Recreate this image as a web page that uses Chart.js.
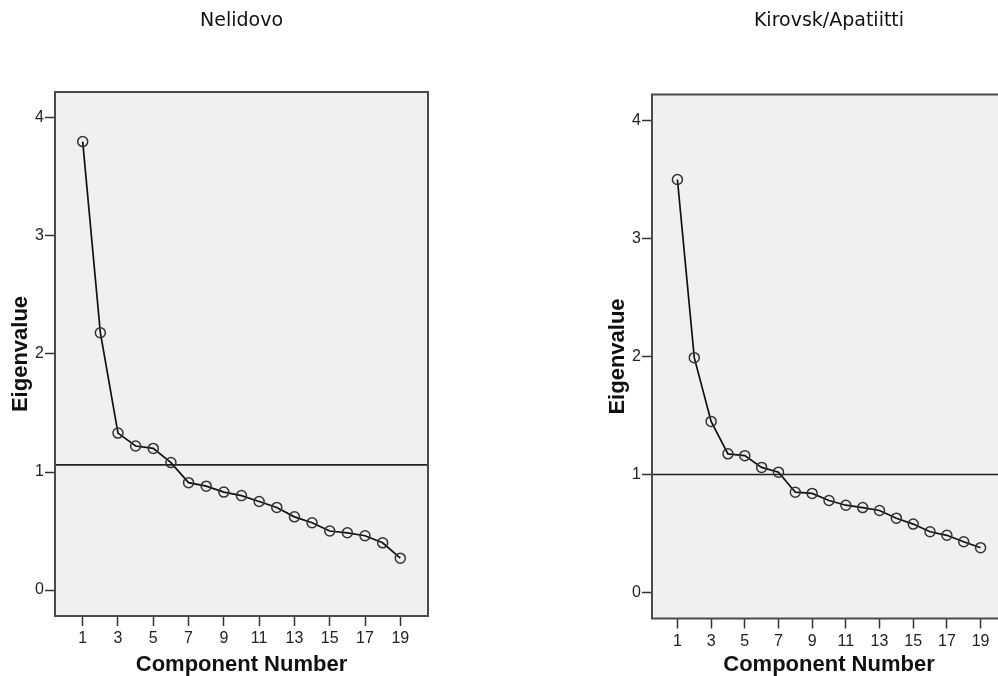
<!DOCTYPE html>
<html>
<head>
<meta charset="utf-8">
<script src="https://cdn.jsdelivr.net/npm/chart.js@4"></script>
<style>
  html, body { margin: 0; padding: 0; background: #fff; overflow: hidden; width: 998px; height: 676px; }
  canvas { position: absolute; top: 0; }
</style>
</head>
<body>
<canvas id="nelidovo-chart" width="440" height="676" style="left:0px"></canvas>
<canvas id="kirovsk-chart" width="440" height="676" style="left:597px"></canvas>
<script>
// scree plot data
const components = [1, 2, 3, 4, 5, 6, 7, 8, 9, 10, 11, 12, 13, 14, 15, 16, 17, 18, 19];
const nelidovoEigen = [3.80, 2.18, 1.33, 1.22, 1.20, 1.08, 0.91, 0.88, 0.83, 0.80, 0.75, 0.70, 0.62, 0.57, 0.50, 0.485, 0.46, 0.40, 0.27];
const kirovskEigen = [3.50, 1.99, 1.45, 1.175, 1.16, 1.06, 1.02, 0.85, 0.84, 0.78, 0.74, 0.72, 0.695, 0.63, 0.58, 0.515, 0.485, 0.43, 0.38];
const nelidovoRef = 1.06;
const kirovskRef = 1.0;
const xTicks = [1, 3, 5, 7, 9, 11, 13, 15, 17, 19];
const yTicks = [0, 1, 2, 3, 4];

const CANVAS_H = 676;

// fills the plot area grey and draws the frame around it
const framePlugin = {
  id: 'frame',
  beforeDraw(chart) {
    const { ctx, chartArea: a } = chart;
    ctx.save();
    ctx.fillStyle = '#f0f0f0';
    ctx.fillRect(a.left, a.top, a.right - a.left, a.bottom - a.top);
    ctx.restore();
  },
  afterDraw(chart) {
    const { ctx, chartArea: a } = chart;
    ctx.save();
    ctx.strokeStyle = '#4a4a4a';
    ctx.lineWidth = 2;
    ctx.strokeRect(a.left, a.top, a.right - a.left, a.bottom - a.top);
    ctx.restore();
  }
};

function setupScreeChart(id, title, values, refValue, layout) {
  const ctx = document.getElementById(id).getContext('2d');
  const xMin = 1 - layout.xPad;
  const xMax = 19 + layout.xPad;

  return new Chart(ctx, {
    type: 'line',
    data: {
      datasets: [
        {
          data: components.map((c, i) => ({ x: c, y: values[i] })),
          borderColor: '#111',
          borderWidth: 1.7,
          pointRadius: 5,
          pointBorderWidth: 1.5,
          pointBorderColor: '#333',
          pointBackgroundColor: 'rgba(0,0,0,0)',
          tension: 0
        },
        {
          data: [{ x: xMin, y: refValue }, { x: xMax, y: refValue }],
          borderColor: '#222',
          borderWidth: 1.7,
          pointRadius: 0
        }
      ]
    },
    options: {
      responsive: false,
      animation: false,
      devicePixelRatio: 1,
      layout: { padding: { left: 0, right: layout.padRight, top: 0, bottom: 0 } },
      plugins: {
        legend: { display: false },
        tooltip: { enabled: false },
        title: {
          display: true,
          text: title,
          fullSize: false,
          color: '#111',
          font: { family: 'DejaVu Sans', size: 19, weight: 'normal', lineHeight: 1 },
          padding: { top: 11.5, bottom: layout.top - 30.5 }
        }
      },
      scales: {
        x: {
          type: 'linear',
          min: xMin,
          max: xMax,
          afterBuildTicks: (scale) => { scale.ticks = xTicks.map(v => ({ value: v })); },
          afterFit: (scale) => { scale.height = CANVAS_H - layout.bottom; },
          grid: { display: true, drawOnChartArea: false, drawTicks: true, tickLength: 10, tickColor: '#333', tickWidth: 1.5 },
          border: { display: false },
          ticks: { color: '#222', padding: 3, maxRotation: 0, autoSkip: false, font: { family: 'Liberation Sans', size: 16 } },
          title: {
            display: true,
            text: 'Component Number',
            color: '#111',
            font: { family: 'Liberation Sans', size: 22, weight: 'bold', lineHeight: 1 },
            padding: { top: 0, bottom: 0 }
          }
        },
        y: {
          type: 'linear',
          min: -0.22,
          max: 4.22,
          afterBuildTicks: (scale) => { scale.ticks = yTicks.map(v => ({ value: v })); },
          afterFit: (scale) => { scale.width = 55; },
          grid: { display: true, drawOnChartArea: false, drawTicks: true, tickLength: 10, tickColor: '#333', tickWidth: 1.5 },
          border: { display: false },
          ticks: { color: '#222', padding: 1, font: { family: 'Liberation Sans', size: 16 } },
          title: {
            display: true,
            text: 'Eigenvalue',
            color: '#111',
            font: { family: 'Liberation Sans', size: 22, weight: 'bold', lineHeight: 1 },
            padding: { top: 10, bottom: 0 }
          }
        }
      }
    },
    plugins: [framePlugin]
  });
}

setupScreeChart('nelidovo-chart', 'Nelidovo', nelidovoEigen, nelidovoRef,
  { top: 92, bottom: 616, padRight: 12, xPad: 1.57 });
setupScreeChart('kirovsk-chart', 'Kirovsk/Apatiitti', kirovskEigen, kirovskRef,
  { top: 94.5, bottom: 618.5, padRight: 31, xPad: 1.51 });
</script>
</body>
</html>
